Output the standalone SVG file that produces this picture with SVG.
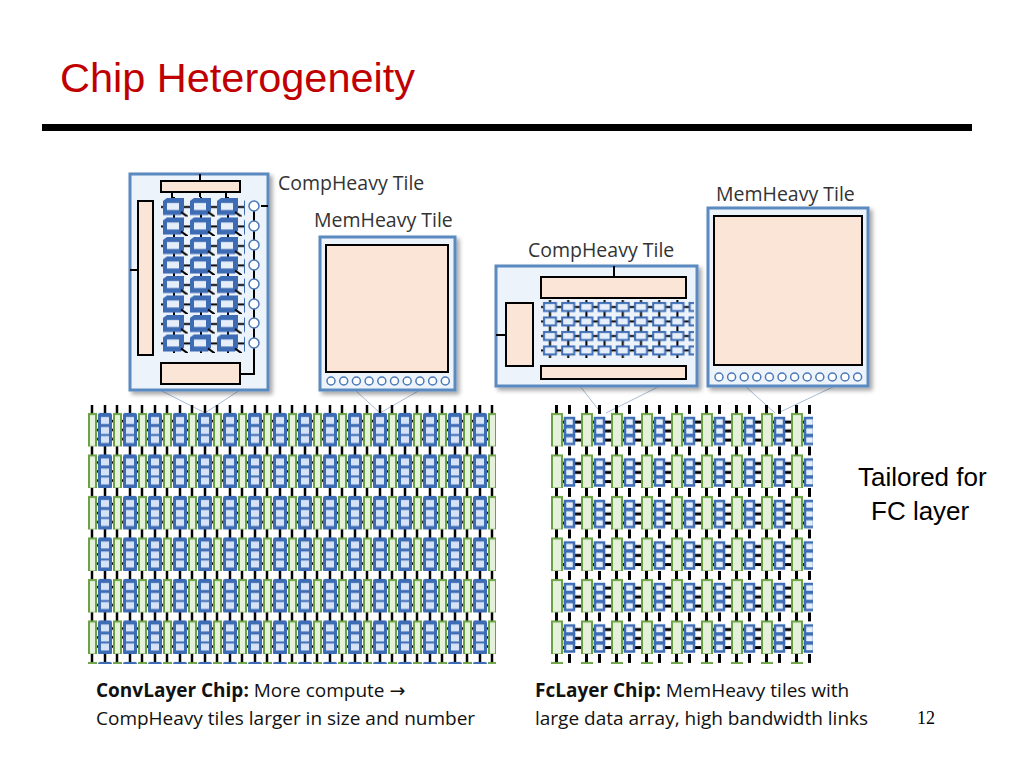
<svg xmlns="http://www.w3.org/2000/svg" width="1024" height="768" viewBox="0 0 1024 768">
<style>
.tile{fill:#edf3fb;stroke:#5a8ac0;stroke-width:3}
.pk{fill:#fbe5d6;stroke:#000;stroke-width:2}
.lbl{font-family:"Open Sans","DejaVu Sans",sans-serif;font-size:19.5px;fill:#333}
.bt{font-family:"Open Sans","DejaVu Sans",sans-serif;font-size:19px;fill:#111}
.ln{stroke:#000;stroke-width:2;fill:none}
.cn{stroke:#aabbd6;stroke-width:1;fill:none}
.ci{fill:#fff;stroke:#4a78b8;stroke-width:1.5}
</style>
<defs>
<filter id="sh" x="-5%" y="-5%" width="115%" height="115%"><feDropShadow dx="3" dy="3" stdDeviation="2" flood-color="#000" flood-opacity="0.35"/></filter>
<pattern id="conv" patternUnits="userSpaceOnUse" x="88" y="405" width="25" height="41.5">
<path d="M4 0V9M17 0V9" stroke="#000" stroke-width="2.5"/>
<path d="M7 16H25M7 25H25M7 34H25" stroke="#000" stroke-width="2.5"/>
<rect x="10" y="8" width="14" height="34" rx="2" fill="#3d6cb5"/>
<rect x="13" y="12" width="8" height="7" fill="#d6e2f5"/><rect x="13" y="22" width="8" height="7" fill="#d6e2f5"/><rect x="13" y="31" width="8" height="7" fill="#d6e2f5"/>
<rect x="1" y="9" width="7" height="33" fill="#e6f1dc" stroke="#6aa344" stroke-width="2"/>
<path d="M9 42Q9 45.5 12 45.5H22Q25 45.5 25 42" stroke="#000" stroke-width="2" fill="none"/>
</pattern>
<pattern id="fc" patternUnits="userSpaceOnUse" x="551" y="405" width="30" height="41.5">
<path d="M5.5 0V9M18.5 0V9" stroke="#000" stroke-width="3"/>
<path d="M10 17H30M10 26H30M10 35H30" stroke="#000" stroke-width="3"/>
<rect x="14" y="13" width="9" height="8" fill="#e6eef9" stroke="#3d6cb5" stroke-width="2.5"/>
<rect x="14" y="22" width="9" height="8" fill="#e6eef9" stroke="#3d6cb5" stroke-width="2.5"/>
<rect x="14" y="31" width="9" height="8" fill="#e6eef9" stroke="#3d6cb5" stroke-width="2.5"/>
<rect x="1" y="9" width="10" height="33" fill="#e6f1dc" stroke="#6aa344" stroke-width="2"/>
<path d="M10 42Q10 46.5 14 46.5H25Q29 46.5 29 42" stroke="#000" stroke-width="2.5" fill="none"/>
</pattern>
<pattern id="blk" patternUnits="userSpaceOnUse" x="161" y="197" width="27" height="19.5">
<path d="M0 10H27M13 0V19.5" stroke="#000" stroke-width="2"/>
<path d="M2 4L6 1H23V14L20 18H2Z" fill="#3d6cb5"/>
<rect x="6" y="6" width="12" height="7" fill="#e6eef9"/>
<path d="M20 15L27 20" stroke="#000" stroke-width="2"/>
</pattern>
<pattern id="mesh" patternUnits="userSpaceOnUse" x="541" y="300" width="18.2" height="14.5">
<path d="M0 7H18.2M9 0V14.5" stroke="#000" stroke-width="2"/>
<rect x="3" y="3" width="12" height="8" fill="#e6eef9" stroke="#3d6cb5" stroke-width="2"/>
</pattern>
</defs>
<rect width="1024" height="768" fill="#fff"/>
<text x="60" y="92" font-family="'Liberation Sans',Arial,sans-serif" font-size="40" fill="#c00000" textLength="355" lengthAdjust="spacingAndGlyphs">Chip Heterogeneity</text>
<rect x="42" y="124" width="930" height="7" fill="#000"/>

<g id="connectors">
<path class="cn" d="M160 390L205 413M240 390L205 413M355 390L380 413M420 390L380 413M580 386L601 413M660 386L606 413M745 386L775 413M835 386L778 413"/>
</g>

<g id="convchip">
<rect x="88" y="405" width="408" height="249" fill="url(#conv)"/>
<rect x="88" y="654" width="408" height="10" fill="url(#conv)"/>
</g>
<g id="fcchip">
<rect x="551" y="405" width="262" height="249" fill="url(#fc)"/>
<rect x="551" y="654" width="262" height="10" fill="url(#fc)"/>
</g>

<g id="tile-comp1">
<rect class="tile" x="130" y="174" width="138" height="216" filter="url(#sh)"/>
<path class="ln" d="M200 174V181M200 192V197M172 192V199M226 192V199M130 270H138M254 206V343M261 206H268M240 374H254V348"/>
<rect x="161" y="197" width="84" height="156" fill="url(#blk)"/>
<rect class="pk" x="161" y="181" width="79" height="11"/>
<rect class="pk" x="138" y="201" width="15" height="154"/>
<rect class="pk" x="161" y="363" width="79" height="21"/>
<g class="ci"><circle cx="254" cy="206" r="5"/><circle cx="254" cy="226" r="5"/><circle cx="254" cy="245" r="5"/><circle cx="254" cy="265" r="5"/><circle cx="254" cy="284" r="5"/><circle cx="254" cy="304" r="5"/><circle cx="254" cy="323" r="5"/><circle cx="254" cy="343" r="5"/></g>
<text class="lbl" x="278" y="190">CompHeavy Tile</text>
</g>

<g id="tile-mem1">
<rect class="tile" x="320" y="237" width="135" height="153" filter="url(#sh)"/>
<rect class="pk" x="326" y="245" width="122" height="127"/>
<g class="ci"><circle cx="331" cy="381" r="4"/><circle cx="343.7" cy="381" r="4"/><circle cx="356.4" cy="381" r="4"/><circle cx="369.1" cy="381" r="4"/><circle cx="381.8" cy="381" r="4"/><circle cx="394.5" cy="381" r="4"/><circle cx="407.2" cy="381" r="4"/><circle cx="419.9" cy="381" r="4"/><circle cx="432.6" cy="381" r="4"/><circle cx="445.3" cy="381" r="4"/></g>
<text class="lbl" x="314" y="227">MemHeavy Tile</text>
</g>

<g id="tile-comp2">
<rect class="tile" x="496" y="266" width="201" height="120" filter="url(#sh)"/>
<path class="ln" d="M614 266V277M496 335H506"/>
<rect x="541" y="300" width="153" height="58" fill="url(#mesh)"/>
<rect class="pk" x="541" y="277" width="145" height="21"/>
<rect class="pk" x="506" y="303" width="27" height="63"/>
<rect class="pk" x="541" y="366" width="145" height="13"/>
<text class="lbl" x="528" y="257">CompHeavy Tile</text>
</g>

<g id="tile-mem2">
<rect class="tile" x="708" y="208" width="160" height="178" filter="url(#sh)"/>
<rect class="pk" x="714" y="216" width="148" height="149"/>
<g class="ci"><circle cx="719" cy="377" r="4"/><circle cx="731.6" cy="377" r="4"/><circle cx="744.2" cy="377" r="4"/><circle cx="756.8" cy="377" r="4"/><circle cx="769.4" cy="377" r="4"/><circle cx="782" cy="377" r="4"/><circle cx="794.6" cy="377" r="4"/><circle cx="807.2" cy="377" r="4"/><circle cx="819.8" cy="377" r="4"/><circle cx="832.4" cy="377" r="4"/><circle cx="845" cy="377" r="4"/><circle cx="857.6" cy="377" r="4"/></g>
<text class="lbl" x="716" y="201">MemHeavy Tile</text>
</g>

<text class="bt" x="96" y="697"><tspan font-weight="bold">ConvLayer Chip:</tspan> More compute →</text>
<text class="bt" x="96" y="725">CompHeavy tiles larger in size and number</text>
<text class="bt" x="535" y="697"><tspan font-weight="bold">FcLayer Chip:</tspan> MemHeavy tiles with</text>
<text class="bt" x="535" y="725">large data array, high bandwidth links</text>
<text x="858" y="486" font-family="'Liberation Sans',Arial,sans-serif" font-size="26">Tailored for</text>
<text x="871" y="520" font-family="'Liberation Sans',Arial,sans-serif" font-size="26">FC layer</text>
<text x="917" y="724" font-family="'Liberation Serif',serif" font-size="18">12</text>
</svg>
